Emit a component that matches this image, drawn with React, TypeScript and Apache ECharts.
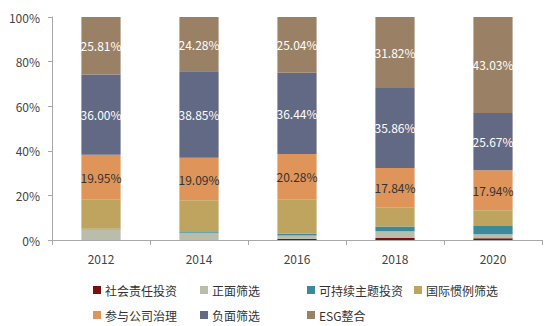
import React, { useEffect, useRef } from "react";
import * as echarts from "echarts";

const categories = ["2012", "2014", "2016", "2018", "2020"];
const seriesNames = ["社会责任投资", "正面筛选", "可持续主题投资", "国际惯例筛选", "参与公司治理", "负面筛选", "ESG整合"];
const socialResp = [0.04, 0.0, 0.6, 0.9, 0.76];
const positive = [4.8, 3.3, 1.4, 3.0, 1.8];
const sustainable = [0.2, 0.3, 0.8, 2.2, 3.7];
const intlNorms = [13.2, 14.18, 15.44, 8.38, 7.1];
const governance = [19.95, 19.09, 20.28, 17.84, 17.94];
const negative = [36.0, 38.85, 36.44, 35.86, 25.67];
const esg = [25.81, 24.28, 25.04, 31.82, 43.03];
const yTicks = [0, 20, 40, 60, 80, 100];

const colors = ["#7a1010", "#b9bdaa", "#3b8a9b", "#bea45f", "#df955a", "#626984", "#9a8166"];
const labelColors: (string | null)[] = [null, null, null, null, "#333333", "#ffffff", "#ffffff"];
const dataSets = [socialResp, positive, sustainable, intlNorms, governance, negative, esg];

const FONT = "Noto Sans CJK SC";

export default function App() {
  const ref = useRef<HTMLDivElement>(null);
  useEffect(() => {
    document.body.style.margin = "0";
    const chart = echarts.init(ref.current!, null, { renderer: "svg" });
    chart.setOption({
      animation: false,
      backgroundColor: "#ffffff",
      textStyle: { fontFamily: FONT },
      grid: { left: 52, right: 8, top: 17, bottom: 86 },
      legend: {
        left: 88,
        top: 278,
        width: 430,
        itemWidth: 8,
        itemHeight: 8,
        itemGap: 11,
        icon: "rect",
        data: seriesNames,
        textStyle: { fontSize: 12, color: "#333", width: 84, lineHeight: 14, fontFamily: FONT, padding: [0, 0, 0, -1] },
      },
      xAxis: {
        type: "category",
        data: categories,
        axisLine: { lineStyle: { color: "#a8a8a8" } },
        axisTick: { show: true, length: 5, lineStyle: { color: "#a8a8a8" } },
        axisLabel: { fontSize: 12, color: "#444", margin: 12, fontFamily: FONT },
      },
      yAxis: {
        type: "value",
        min: yTicks[0],
        max: yTicks[yTicks.length - 1],
        interval: 20,
        splitLine: { show: false },
        axisLine: { show: true, lineStyle: { color: "#a8a8a8" } },
        axisTick: { show: true, length: 4, lineStyle: { color: "#a8a8a8" } },
        axisLabel: { fontSize: 12, color: "#444", margin: 12, formatter: "{value}%", fontFamily: FONT },
      },
      series: seriesNames.map((name, i) => ({
        name,
        type: "bar",
        stack: "total",
        barWidth: "40%",
        data: dataSets[i],
        itemStyle: { color: colors[i] },
        label: labelColors[i]
          ? {
              show: true,
              position: "inside",
              color: labelColors[i],
              fontSize: 12,
              fontFamily: FONT,
              formatter: (p: any) => Number(p.value).toFixed(2) + "%",
            }
          : { show: false },
      })),
    });
    return () => chart.dispose();
  }, []);
  return <div ref={ref} style={{ position: "absolute", left: 0, top: 0, width: 550, height: 326 }} />;
}
